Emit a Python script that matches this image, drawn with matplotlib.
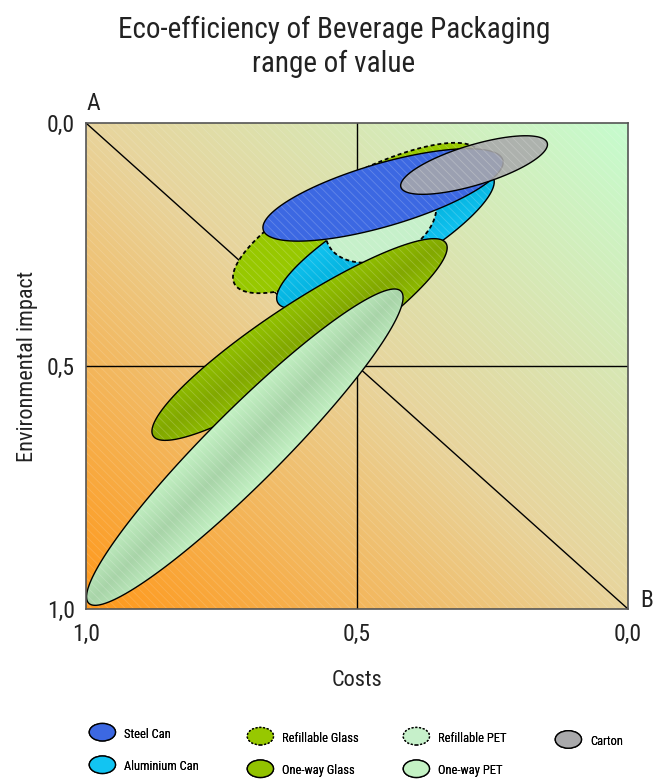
import numpy as np
import matplotlib
matplotlib.use('Agg')
import matplotlib.pyplot as plt
import matplotlib.patches as mpatches
from matplotlib.colors import LinearSegmentedColormap, to_rgb
from matplotlib.legend_handler import HandlerPatch

plt.rcParams['font.family'] = ['Roboto Condensed', 'DejaVu Sans']
plt.rcParams['hatch.linewidth'] = 0.6

### Data
# Every packaging range is an ellipse: the two ends of its long axis
# (costs, environmental impact) and the half width in costs units
packs = ['Steel Can', 'Aluminium Can', 'Refillable Glass', 'One-way Glass',
         'Refillable PET', 'One-way PET', 'Carton']
cost_from = [0.673, 0.646, 0.726, 0.876, 0.554, 0.995, 0.419]
impact_from = [0.220, 0.370, 0.331, 0.644, 0.248, 0.988, 0.132]
cost_to = [0.231, 0.249, 0.274, 0.336, 0.358, 0.419, 0.149]
impact_to = [0.076, 0.111, 0.060, 0.247, 0.151, 0.346, 0.041]
half_width = [0.058, 0.059, 0.076, 0.065, 0.072, 0.068, 0.037]

tick_vals = [0.0, 0.5, 1.0]
tick_text = ['0,0', '0,5', '1,0']

### Styles
face = {'Steel Can': '#3C68E2', 'Aluminium Can': '#12C4F2',
        'Refillable Glass': '#97C800', 'One-way Glass': '#92C200',
        'Refillable PET': '#C6F0CA', 'One-way PET': '#C4F2C4',
        'Carton': '#A9A9AB'}
# darker middle of some ranges
middle = {'One-way Glass': '#82A800', 'One-way PET': '#A8D4A8',
          'Aluminium Can': '#06B6E2'}
dashed = ['Refillable Glass', 'Refillable PET']
alpha = {'Carton': 0.88}
# drawing order, back to front
order = ['Refillable Glass', 'Aluminium Can', 'Refillable PET', 'Steel Can',
         'Carton', 'One-way Glass', 'One-way PET']
# legend columns: entries, left edge and vertical centre in pixels
legend_cols = [(['Steel Can', 'Aluminium Can'], 78, 750),
               (['Refillable Glass', 'One-way Glass'], 236, 754),
               (['Refillable PET', 'One-way PET'], 392, 754),
               (['Carton'], 544, 741)]


def ellipse_geom(ax, i):
    # long axis ends in pixels, the ellipse is round in pixels
    p = ax.transData.transform([(cost_from[i], impact_from[i]),
                                (cost_to[i], impact_to[i])])
    mid = p.mean(axis=0)
    d = p[1] - p[0]
    a = np.hypot(d[0], d[1]) / 2
    ang = np.arctan2(d[1], d[0])
    b = half_width[i] * ax.bbox.width
    return mid, a, b, ang


def ellipse_outline(ax, i, n=240):
    mid, a, b, ang = ellipse_geom(ax, i)
    t = np.linspace(0, 2 * np.pi, n)
    xs, ys = a * np.cos(t), b * np.sin(t)
    pts = np.column_stack([mid[0] + xs * np.cos(ang) - ys * np.sin(ang),
                           mid[1] + xs * np.sin(ang) + ys * np.cos(ang)])
    return ax.transData.inverted().transform(pts)


def shade(ax, i, edge, centre, clip, z):
    mid, a, b, ang = ellipse_geom(ax, i)
    bb = ax.bbox
    nx, ny = int(bb.width), int(bb.height)
    X = bb.x0 + np.arange(nx) + 0.5
    Y = bb.y1 - np.arange(ny) - 0.5
    XX, YY = np.meshgrid(X, Y)
    s = (-(XX - mid[0]) * np.sin(ang) + (YY - mid[1]) * np.cos(ang)) / b
    k = np.clip(1 - np.abs(s), 0, 1)[..., None]
    rgb = np.array(to_rgb(edge)) * (1 - k) + np.array(to_rgb(centre)) * k
    im = ax.imshow(rgb, extent=(1, 0, 1, 0), origin='upper', aspect='auto',
                   zorder=z, interpolation='bilinear')
    im.set_clip_path(clip)


class HandlerEllipse(HandlerPatch):
    def create_artists(self, legend, orig_handle, xdescent, ydescent,
                       width, height, fontsize, trans):
        center = 0.5 * width - 0.5 * xdescent, 0.5 * height - 0.5 * ydescent
        p = mpatches.Ellipse(xy=center, width=width + xdescent,
                             height=height + ydescent)
        self.update_prop(p, orig_handle, legend)
        p.set_transform(trans)
        return [p]


def main():
    fig = plt.figure(figsize=(6.61, 7.80), dpi=100)
    ax = fig.add_axes([86 / 661, 171 / 780, 542 / 661, 486 / 780])
    ax.set_xlim(1, 0)
    ax.set_ylim(1, 0)

    # background gradient, orange bottom left to green top right
    u = np.linspace(0, 1, 300)[None, :]
    v = np.linspace(1, 0, 300)[:, None]
    cmap = LinearSegmentedColormap.from_list(
        'bg', ['#FF981A', '#E8D49C', '#C6FCCE'])
    ax.imshow((u + v) / 2, cmap=cmap, extent=(1, 0, 1, 0), origin='upper',
              aspect='auto', zorder=0, interpolation='bilinear')
    ax.add_patch(mpatches.Rectangle((0, 0), 1, 1, transform=ax.transAxes,
                                    fill=False, hatch='\\' * 4, lw=0,
                                    edgecolor=(1, 1, 1, 0.15), zorder=0.5))

    # quadrants and diagonal A-B
    ax.axvline(0.5, color='black', lw=1, zorder=1)
    ax.axhline(0.5, color='black', lw=1, zorder=1)
    ax.plot([1, 0], [0, 1], color='black', lw=1, zorder=1)

    for z, name in enumerate(order):
        i = packs.index(name)
        pts = ellipse_outline(ax, i)
        zz = 3 + z
        ls = (0, (2.2, 1.6)) if name in dashed else '-'
        lw = 1.3 if name in dashed else 1.0
        body = mpatches.Polygon(pts, closed=True, facecolor=face[name],
                                edgecolor='none', alpha=alpha.get(name, 1),
                                zorder=zz)
        ax.add_patch(body)
        if name in middle:
            shade(ax, i, face[name], middle[name], body, zz + 0.1)
        ax.add_patch(mpatches.Polygon(pts, closed=True, fill=False, lw=0,
                                      hatch='\\' * 4,
                                      edgecolor=(1, 1, 1, 0.2),
                                      zorder=zz + 0.2))
        ax.add_patch(mpatches.Polygon(pts, closed=True, fill=False,
                                      edgecolor='black', lw=lw, ls=ls,
                                      zorder=zz + 0.3))

    # axes
    ax.set_xticks(tick_vals, tick_text)
    ax.set_yticks(tick_vals, tick_text)
    ax.tick_params(axis='both', length=0, labelsize=17, colors='#222222')
    ax.tick_params(axis='x', pad=10)
    ax.tick_params(axis='y', pad=8)
    ax.set_xlabel('Costs', fontsize=16, labelpad=17, color='#222222')
    ax.set_ylabel('Environmental impact', fontsize=16, labelpad=6,
                  color='#222222')
    for sp in ax.spines.values():
        sp.set_color('#555555')
        sp.set_linewidth(1.2)
        sp.set_zorder(20)

    ax.text(0.013, 1.041, 'A', transform=ax.transAxes, ha='center',
            va='center', fontsize=17, color='#222222')
    ax.text(1.035, 0.0185, 'B', transform=ax.transAxes, ha='center',
            va='center', fontsize=17, color='#222222')

    fig.text(0.505, 1 - 47 / 780,
             'Eco-efficiency of Beverage Packaging\nrange of value',
             ha='center', va='center', fontsize=21, linespacing=1.28,
             color='#222222')

    # legend, one block per column
    for names, left, mid_y in legend_cols:
        handles = [mpatches.Patch(facecolor=face[n], edgecolor='black', lw=1,
                                  ls=(0, (1.5, 1.2)) if n in dashed else '-',
                                  label=n) for n in names]
        leg = fig.legend(handles=handles, loc='center left',
                         bbox_to_anchor=(left / 661, 1 - mid_y / 780),
                         frameon=False, fontsize=9, handlelength=2.1,
                         handleheight=1.4, handletextpad=0.7,
                         labelspacing=1.45,
                         handler_map={mpatches.Patch: HandlerEllipse()})
        fig.add_artist(leg)

    fig.savefig('out.png', dpi=100)


if __name__ == '__main__':
    main()
